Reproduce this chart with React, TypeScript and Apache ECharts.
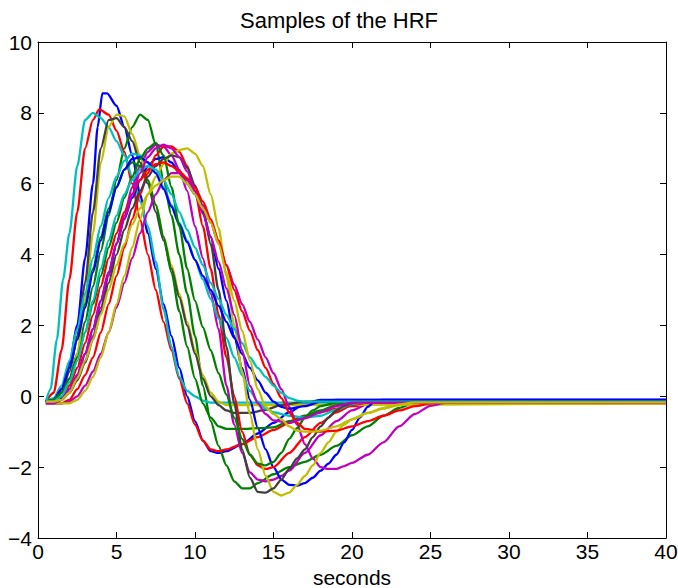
import React, { useEffect, useRef } from "react";
import * as echarts from "echarts";

const title = "Samples of the HRF";
const xName = "seconds";
const xTicks = [0, 5, 10, 15, 20, 25, 30, 35, 40];
const yTicks = [-4, -2, 0, 2, 4, 6, 8, 10];

// curves: [seconds, value]
const blue1 = [[0.5,-0.15],[1,-0.15],[1.5,0.2],[2,0.9],[2.5,2.0],[3,3.9],[3.5,6.0],[3.8,7.6],[4.1,8.55],[4.4,8.55],[5,8.2],[5.5,7.6],[6,6.8],[6.5,5.7],[7,4.6],[7.5,3.6],[8,2.6],[8.5,1.7],[9,0.8],[9.5,0.0],[10,-0.7],[10.5,-1.25],[11,-1.55],[11.5,-1.6],[12,-1.55],[13,-1.35],[14,-1.05],[15,-0.75],[16,-0.45],[17,-0.2],[18,-0.1],[40,-0.1]];
const green1 = [[0.5,-0.15],[1,-0.1],[1.5,0.1],[2,0.5],[2.5,1.2],[3,2.1],[3.5,3.1],[4,4.1],[4.5,5.1],[5,6.1],[5.5,7.0],[6,7.6],[6.5,7.95],[7,7.8],[7.5,7.1],[8,6.1],[8.5,5.1],[9,4.0],[9.5,2.9],[10,1.7],[10.5,0.3],[11,-0.7],[11.5,-1.4],[12,-1.95],[12.5,-2.4],[13,-2.6],[13.5,-2.6],[14,-2.45],[15,-2.2],[16,-2.0],[17,-1.85],[18,-1.65],[19,-1.4],[20,-1.1],[21,-0.85],[22,-0.55],[23,-0.33],[24,-0.18],[40,-0.15]];
const red1 = [[0.5,-0.15],[1,0.1],[1.5,1.3],[2,3.3],[2.5,5.2],[3,7.0],[3.5,7.8],[3.9,8.1],[4.5,7.95],[5,7.5],[5.5,6.9],[6,6.0],[6.5,5.0],[7,4.0],[7.5,3.0],[8,2.1],[8.5,1.3],[9,0.5],[9.5,-0.2],[10,-0.8],[10.5,-1.25],[11,-1.5],[11.5,-1.55],[12,-1.5],[13,-1.35],[14,-1.15],[15,-0.95],[16,-0.75],[17,-0.58],[18,-0.45],[19,-0.35],[20,-0.28],[21,-0.23],[22,-0.2],[40,-0.2]];
const cyan1 = [[0.5,-0.15],[0.8,0.2],[1.2,1.6],[1.6,3.3],[2,4.6],[2.5,6.5],[3,7.8],[3.5,8.0],[4,7.85],[4.5,7.6],[5,7.2],[5.5,6.8],[6,6.2],[6.5,5.5],[7,4.8],[7.5,3.8],[8,2.45],[8.5,1.4],[9,0.55],[9.5,0.15],[10,0.0],[10.5,-0.12],[11,-0.18],[40,-0.18]];
const magenta1 = [[0.5,-0.15],[1,-0.15],[1.5,-0.1],[2,0.1],[2.5,0.5],[3,1.0],[3.5,1.7],[4,2.5],[4.5,3.4],[5,4.3],[5.5,5.1],[6,5.9],[6.5,6.5],[7,6.9],[7.5,7.1],[8,7.05],[8.5,6.8],[9,6.4],[9.5,5.8],[10,4.8],[10.5,3.9],[11,2.9],[11.5,1.9],[12,0.3],[12.5,-0.8],[13,-1.6],[13.5,-2.15],[14,-2.35],[14.5,-2.4],[15,-2.35],[15.5,-2.25],[16,-2.1],[17,-1.6],[18,-1.1],[19,-0.7],[20,-0.4],[21,-0.22],[22,-0.18],[40,-0.18]];
const yellow1 = [[0.5,-0.2],[1,-0.2],[1.5,-0.1],[2,0.3],[2.5,1.2],[3,2.7],[3.5,4.6],[4,6.6],[4.5,7.6],[5,7.95],[5.5,7.9],[6,7.4],[6.5,6.8],[7,6.1],[7.5,5.4],[8,4.5],[8.5,3.7],[9,2.9],[9.5,2.1],[10,1.3],[10.5,0.6],[11,0.1],[11.5,-0.15],[12,-0.25],[40,-0.2]];
const gray1 = [[0.5,-0.15],[1,-0.15],[1.5,0.1],[2,0.7],[2.5,1.7],[3,3.2],[3.5,5.2],[4,7.0],[4.5,7.8],[5,7.85],[5.5,7.6],[6,7.2],[6.5,6.6],[7,6.0],[7.5,5.2],[8,4.4],[8.5,3.6],[9,2.8],[9.5,2.0],[10,1.2],[10.5,0.5],[11,0.0],[11.5,-0.25],[12,-0.4],[12.5,-0.47],[13.5,-0.47],[14.5,-0.38],[15.5,-0.25],[17,-0.15],[40,-0.15]];
const blue2 = [[0.5,-0.15],[1,-0.15],[1.5,-0.05],[2,0.2],[2.5,0.6],[3,1.2],[3.5,1.9],[4,2.7],[4.5,3.5],[5,4.3],[5.5,5.0],[6,5.6],[6.5,6.1],[7,6.5],[7.5,6.7],[8,6.75],[8.5,6.6],[9,6.3],[9.5,6.0],[10,5.7],[10.5,5.2],[11,4.5],[11.5,3.6],[12,2.7],[12.5,1.7],[13,0.8],[13.5,-0.1],[14,-0.9],[14.5,-1.5],[15,-2.0],[15.5,-2.35],[16,-2.5],[16.5,-2.52],[17,-2.45],[17.5,-2.3],[18,-2.1],[18.5,-1.9],[19,-1.65],[19.5,-1.3],[20,-0.95],[20.5,-0.6],[21,-0.3],[21.5,-0.12],[22,-0.1],[40,-0.1]];
const green2 = [[0.5,-0.15],[1,-0.1],[1.5,0.2],[2,0.8],[2.5,1.6],[3,2.6],[3.5,3.6],[4,4.5],[4.5,5.3],[5,5.9],[5.5,6.4],[6,6.6],[6.5,6.5],[7,6.1],[7.5,5.4],[8,4.5],[8.5,3.5],[9,2.4],[9.5,1.4],[10,0.5],[10.5,-0.2],[11,-0.6],[11.5,-0.85],[12,-0.92],[13,-0.92],[14,-0.9],[15,-0.88],[16,-0.7],[17,-0.55],[18,-0.4],[19,-0.25],[20,-0.12],[40,-0.12]];
const red2 = [[0.5,-0.2],[1,-0.2],[1.5,-0.2],[2,-0.1],[2.5,0.2],[3,0.6],[3.5,1.1],[4,1.8],[4.5,2.6],[5,3.4],[5.5,4.2],[6,5.0],[6.5,5.7],[7,6.3],[7.5,6.8],[8,7.05],[8.5,7.05],[9,6.9],[9.5,6.5],[10,5.8],[10.5,4.8],[11,3.6],[11.5,2.3],[12,1.1],[12.5,0.0],[13,-1.0],[13.5,-1.65],[14,-1.95],[14.5,-2.05],[15,-2.0],[16,-1.6],[17,-1.15],[18,-0.75],[19,-0.45],[20,-0.25],[21,-0.18],[40,-0.18]];
const cyan2 = [[0.5,-0.15],[1,-0.05],[1.5,0.3],[2,1.0],[2.5,1.9],[3,2.9],[3.5,3.9],[4,4.8],[4.5,5.6],[5,6.2],[5.5,6.65],[6,6.85],[6.5,6.8],[7,6.6],[7.5,6.3],[8,5.9],[8.5,5.4],[9,4.9],[9.5,4.4],[10,3.85],[10.5,3.3],[11,2.75],[11.5,2.2],[12,1.65],[12.5,1.1],[13,0.6],[13.5,0.15],[14,-0.15],[14.5,-0.35],[15,-0.45],[16,-0.55],[17,-0.6],[18,-0.55],[19,-0.38],[20,-0.22],[21,-0.15],[40,-0.15]];
const magenta2 = [[0.5,-0.2],[1,-0.2],[1.5,-0.2],[2,-0.15],[2.5,0.0],[3,0.3],[3.5,0.7],[4,1.2],[4.5,1.8],[5,2.5],[5.5,3.2],[6,3.9],[6.5,4.6],[7,5.2],[7.5,5.7],[8,6.1],[8.5,6.3],[9,6.3],[9.5,6.1],[10,5.8],[10.5,5.4],[11,4.9],[11.5,4.3],[12,3.7],[12.5,3.15],[13,2.6],[13.5,2.1],[14,1.6],[14.5,1.1],[15,0.65],[15.5,0.2],[16,-0.3],[16.5,-0.8],[17,-1.35],[17.5,-1.75],[18,-2.0],[18.5,-2.05],[19,-2.05],[19.5,-1.97],[20,-1.88],[21,-1.65],[22,-1.3],[23,-0.85],[24,-0.5],[25,-0.27],[26,-0.18],[40,-0.18]];
const yellow2 = [[0.5,-0.2],[1,-0.2],[1.5,-0.2],[2,-0.2],[2.5,-0.1],[3,0.15],[3.5,0.55],[4,1.1],[4.5,1.8],[5,2.6],[5.5,3.4],[6,4.2],[6.5,5.0],[7,5.7],[7.5,6.2],[8,6.55],[8.5,6.85],[9,6.95],[9.5,7.0],[10,6.85],[10.5,6.5],[11,5.7],[11.5,4.75],[12,3.4],[12.5,2.0],[13,0.7],[13.5,-0.5],[14,-1.5],[14.5,-2.25],[15,-2.7],[15.5,-2.8],[16,-2.72],[16.5,-2.5],[17,-2.25],[17.5,-1.95],[18,-1.6],[18.5,-1.3],[19,-1.0],[19.5,-0.8],[20,-0.65],[21,-0.47],[22,-0.35],[23,-0.25],[24,-0.18],[40,-0.18]];
const gray2 = [[0.5,-0.15],[1,-0.15],[1.5,-0.1],[2,0.1],[2.5,0.45],[3,0.95],[3.5,1.6],[4,2.4],[4.5,3.2],[5,4.0],[5.5,4.7],[6,5.3],[6.5,5.8],[7,6.2],[7.5,6.5],[8,6.7],[8.5,6.8],[9,6.75],[9.5,6.45],[10,5.95],[10.5,5.3],[11,4.3],[11.5,3.0],[12,1.4],[12.5,-0.2],[13,-1.5],[13.5,-2.3],[14,-2.7],[14.5,-2.72],[15,-2.6],[15.5,-2.35],[16,-2.05],[16.5,-1.75],[17,-1.5],[17.5,-1.15],[18,-0.85],[18.5,-0.6],[19,-0.4],[19.5,-0.27],[20,-0.2],[20.5,-0.15],[40,-0.15]];
const blue3 = [[0.5,-0.15],[1,-0.1],[1.5,0.2],[2,0.8],[2.5,1.6],[3,2.5],[3.5,3.5],[4,4.4],[4.5,5.2],[5,5.9],[5.5,6.4],[6,6.7],[6.5,6.75],[7,6.6],[7.5,6.3],[8,5.85],[8.5,5.35],[9,4.85],[9.5,4.35],[10,3.85],[10.5,3.4],[11,3.0],[11.5,2.55],[12,2.1],[12.5,1.65],[13,1.2],[13.5,0.8],[14,0.45],[14.5,0.1],[15,-0.15],[15.5,-0.3],[16,-0.35],[17,-0.28],[18,-0.15],[19,-0.1],[40,-0.1]];
const green3 = [[0.5,-0.15],[1,-0.1],[1.5,0.1],[2,0.5],[2.5,1.1],[3,1.8],[3.5,2.6],[4,3.4],[4.5,4.2],[5,4.9],[5.5,5.6],[6,6.2],[6.5,6.7],[7,7.0],[7.5,7.15],[8,6.8],[8.5,5.9],[9,4.8],[9.5,3.6],[10,2.7],[10.5,1.95],[11,1.3],[11.5,0.65],[12,0.05],[12.5,-0.6],[13,-1.2],[13.5,-1.65],[14,-1.9],[14.5,-1.95],[15,-1.85],[15.5,-1.6],[16,-1.2],[16.5,-0.9],[17,-0.6],[17.5,-0.4],[18,-0.28],[19,-0.18],[20,-0.15],[40,-0.15]];
const red3 = [[0.5,-0.15],[1,-0.15],[1.5,0.0],[2,0.3],[2.5,0.8],[3,1.5],[3.5,2.3],[4,3.1],[4.5,3.9],[5,4.6],[5.5,5.2],[6,5.7],[6.5,6.1],[7,6.4],[7.5,6.55],[8,6.6],[8.5,6.5],[9,6.35],[9.5,6.15],[10,5.9],[10.5,5.5],[11,5.0],[11.5,4.4],[12,3.7],[12.5,3.0],[13,2.4],[13.5,1.85],[14,1.3],[14.5,0.8],[15,0.35],[15.5,-0.05],[16,-0.45],[16.5,-0.75],[17,-0.92],[18,-1.0],[19,-0.97],[20,-0.85],[21,-0.7],[22,-0.55],[23,-0.4],[24,-0.28],[25,-0.2],[26,-0.17],[40,-0.17]];
const cyan3 = [[0.5,-0.15],[1,-0.15],[1.5,0.0],[2,0.4],[2.5,1.0],[3,1.8],[3.5,2.7],[4,3.6],[4.5,4.4],[5,5.1],[5.5,5.7],[6,6.1],[6.5,6.4],[7,6.5],[7.5,6.4],[8,6.1],[8.5,5.7],[9,5.2],[9.5,4.7],[10,4.2],[10.5,3.7],[11,3.2],[11.5,2.75],[12,2.3],[12.5,1.9],[13,1.5],[13.5,1.1],[14,0.8],[14.5,0.55],[15,0.3],[15.5,0.1],[16,-0.05],[16.5,-0.12],[17,-0.15],[40,-0.15]];
const magenta3 = [[0.5,-0.2],[1,-0.2],[1.5,-0.1],[2,0.2],[2.5,0.6],[3,1.2],[3.5,1.9],[4,2.7],[4.5,3.5],[5,4.3],[5.5,5.0],[6,5.7],[6.5,6.3],[7,6.75],[7.5,7.0],[8,7.1],[8.5,7.0],[9,6.75],[9.5,6.35],[10,5.8],[10.5,5.15],[11,4.5],[11.5,3.8],[12,3.05],[12.5,2.3],[13,1.3],[13.5,0.3],[14,-0.2],[14.5,-0.5],[15,-0.68],[16,-0.75],[17,-0.62],[18,-0.45],[19,-0.28],[20,-0.18],[40,-0.18]];
const yellow3 = [[0.5,-0.15],[1,-0.15],[1.5,-0.1],[2,0.1],[2.5,0.5],[3,1.0],[3.5,1.6],[4,2.3],[4.5,3.0],[5,3.7],[5.5,4.3],[6,4.85],[6.5,5.3],[7,5.7],[7.5,5.95],[8,6.1],[8.5,6.2],[9,6.2],[9.5,6.0],[10,5.7],[10.5,5.3],[11,4.9],[11.5,4.3],[12,3.5],[12.5,2.7],[13,1.85],[13.5,1.0],[14,0.2],[14.5,-0.3],[15,-0.5],[15.5,-0.65],[16,-0.85],[16.5,-0.97],[17,-1.0],[17.5,-1.0],[18,-0.97],[19,-0.85],[20,-0.65],[21,-0.47],[22,-0.33],[23,-0.23],[24,-0.17],[40,-0.17]];

const curves = [blue1, green1, red1, cyan1, magenta1, yellow1, gray1, blue2, green2, red2, cyan2, magenta2, yellow2, gray2, blue3, green3, red3, cyan3, magenta3, yellow3];
const palette = ["#0000ff", "#008000", "#ff0000", "#00bfbf", "#bf00bf", "#bfbf00", "#404040"];

const FONT = "'Liberation Sans', Arial, Helvetica, sans-serif";

export default function App() {
  const ref = useRef<HTMLDivElement>(null);
  useEffect(() => {
    if (!ref.current) return;
    const chart = echarts.init(ref.current, null, { renderer: "svg" });
    const axisCommon = {
      type: "value" as const,
      axisLine: { show: true, onZero: false, lineStyle: { color: "#000", width: 1 } },
      axisTick: { show: true, inside: true, length: 6, lineStyle: { color: "#000", width: 1 } },
      splitLine: { show: false },
    };
    const fmt = (v: number) => (v < 0 ? "\u2212" + Math.abs(v) : String(v));
    chart.setOption({
      animation: false,
      backgroundColor: "#fff",
      title: {
        text: title,
        left: "center",
        top: 4,
        textStyle: { fontFamily: FONT, fontSize: 22, fontWeight: "normal", color: "#000" },
      },
      grid: { left: 38, right: 12, top: 42, bottom: 50, show: false, outerBoundsMode: "none", containLabel: false },
      xAxis: [
        {
          ...axisCommon,
          position: "bottom",
          min: xTicks[0],
          max: xTicks[xTicks.length - 1],
          interval: xTicks[1] - xTicks[0],
          axisLabel: { color: "#000", fontFamily: FONT, fontSize: 21, margin: 3, formatter: fmt },
          name: xName,
          nameLocation: "middle",
          nameGap: 23,
          nameTextStyle: { color: "#000", fontFamily: FONT, fontSize: 21, lineHeight: 22, verticalAlign: "top" },
        },
        {
          ...axisCommon,
          position: "top",
          min: xTicks[0],
          max: xTicks[xTicks.length - 1],
          interval: xTicks[1] - xTicks[0],
          axisLabel: { show: false },
        },
      ],
      yAxis: [
        {
          ...axisCommon,
          position: "left",
          min: yTicks[0],
          max: yTicks[yTicks.length - 1],
          interval: yTicks[1] - yTicks[0],
          axisLabel: { color: "#000", fontFamily: FONT, fontSize: 21, margin: 6, formatter: fmt },
        },
        {
          ...axisCommon,
          position: "right",
          min: yTicks[0],
          max: yTicks[yTicks.length - 1],
          interval: yTicks[1] - yTicks[0],
          axisLabel: { show: false },
        },
      ],
      series: curves.map((d, i) => ({
        type: "line",
        xAxisIndex: 0,
        yAxisIndex: 0,
        data: d,
        showSymbol: false,
        symbol: "none",
        smooth: 0.25,
        smoothMonotone: "x",
        lineStyle: { color: palette[i % palette.length], width: 2.3 },
        z: 2 + i,
      })),
    });
    return () => chart.dispose();
  }, []);
  return <div ref={ref} style={{ width: 678, height: 588, position: "absolute", left: 0, top: 0 }} />;
}
